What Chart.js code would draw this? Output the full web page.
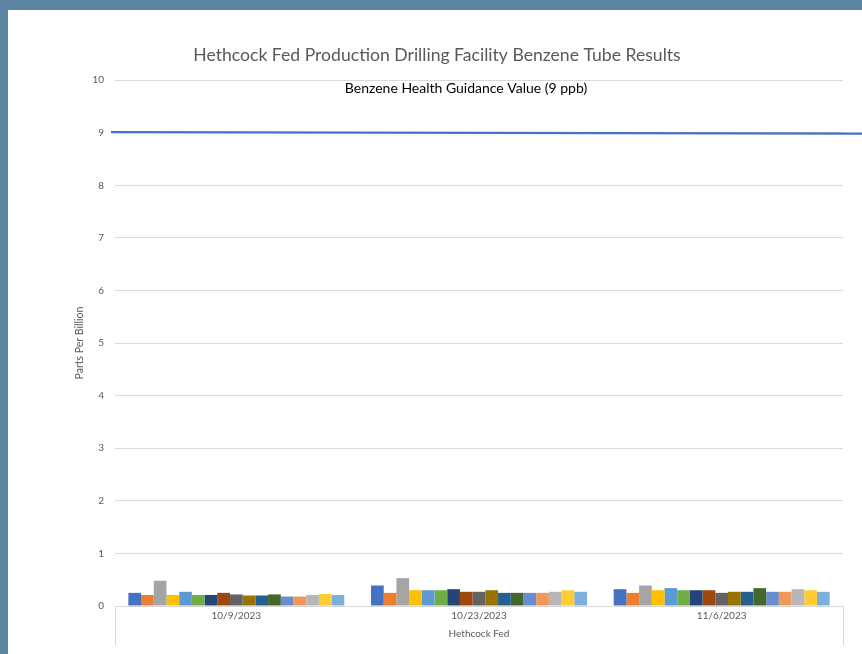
<!DOCTYPE html>
<html>
<head>
<meta charset="utf-8">
<script src="https://cdn.jsdelivr.net/npm/chart.js@4/dist/chart.umd.min.js"></script>
<style>
  html, body { margin: 0; padding: 0; background: #5b85a1; width: 862px; height: 654px; overflow: hidden; }
  #card { position: absolute; left: 8px; top: 10px; width: 854px; height: 644px; background: #fff; }
</style>
</head>
<body>
<div id="card"><canvas id="benzeneChart" width="854" height="644"></canvas></div>
<script>
const dates = ["10/9/2023", "10/23/2023", "11/6/2023"];
const groupLabel = "Hethcock Fed";

// one value per tube, in tube order, for each sampling date (ppb)
const oct9 = [0.25, 0.21, 0.48, 0.21, 0.27, 0.21, 0.21, 0.25, 0.22, 0.20, 0.20, 0.22, 0.18, 0.18, 0.21, 0.23, 0.21];
const oct23 = [0.39, 0.25, 0.53, 0.30, 0.30, 0.30, 0.32, 0.27, 0.27, 0.30, 0.25, 0.25, 0.25, 0.25, 0.27, 0.30, 0.27];
const nov6 = [0.32, 0.25, 0.39, 0.30, 0.34, 0.30, 0.30, 0.30, 0.25, 0.27, 0.27, 0.34, 0.27, 0.27, 0.32, 0.30, 0.27];

const yTicks = [0, 1, 2, 3, 4, 5, 6, 7, 8, 9, 10];
const guidanceValue = 9;
const guidanceLabel = "Benzene Health Guidance Value (9 ppb)";

const tubeColors = [
  "#4472c4", "#ed7d31", "#a5a5a5", "#ffc000", "#5b9bd5", "#70ad47",
  "#264478", "#9e480e", "#636363", "#997300", "#255e91", "#43682b",
  "#698ed0", "#f1975a", "#b7b7b7", "#ffcd33", "#7cafdd"
];

const byDate = [oct9, oct23, nov6];
const datasets = tubeColors.map((color, i) => ({
  label: `Tube ${i + 1}`,
  data: byDate.map(values => values[i]),
  backgroundColor: color,
  borderWidth: 0,
  categoryPercentage: 0.89,
  barPercentage: 1.0
}));

// guidance line + its label, and the group box under the category axis
const guidancePlugin = {
  id: "guidance",
  afterDatasetsDraw(chart) {
    const { ctx, scales: { x, y } } = chart;
    const py = y.getPixelForValue(guidanceValue);
    ctx.save();

    // box sides of the "Hethcock Fed" group
    ctx.strokeStyle = "#d9d9d9";
    ctx.lineWidth = 1;
    [-0.5, dates.length - 0.5].forEach(v => {
      const px = Math.round(x.getPixelForValue(v)) + 0.5;
      ctx.beginPath();
      ctx.moveTo(px, x.top);
      ctx.lineTo(px, x.top + 39);
      ctx.stroke();
    });

    ctx.strokeStyle = "#4472c4";
    ctx.lineWidth = 2.25;
    ctx.beginPath();
    ctx.moveTo(x.left - 4, py - 0.5);
    ctx.lineTo(chart.width, py + 1);
    ctx.stroke();

    ctx.fillStyle = "#000";
    ctx.font = "14px Lato";
    ctx.textAlign = "center";
    ctx.textBaseline = "middle";
    ctx.fillText(guidanceLabel, x.getPixelForValue(1) - 13, py - 44);
    ctx.restore();
  }
};

new Chart(document.getElementById("benzeneChart"), {
  type: "bar",
  data: { labels: dates, datasets: datasets },
  plugins: [guidancePlugin],
  options: {
    responsive: false,
    animation: false,
    layout: { padding: { left: 23, right: 19, top: 0, bottom: 0 } },
    plugins: {
      legend: { display: false },
      tooltip: { enabled: false },
      title: {
        display: true,
        text: "Hethcock Fed Production Drilling Facility Benzene Tube Results",
        color: "#595959",
        font: { family: "Lato", size: 17.6, weight: "normal" },
        padding: { top: 35, bottom: 14 }
      }
    },
    scales: {
      x: {
        offset: true,
        grid: { display: false },
        border: { color: "#d9d9d9" },
        ticks: { color: "#595959", font: { family: "Lato", size: 10 }, padding: -4, maxRotation: 0 },
        title: {
          display: true,
          text: groupLabel,
          color: "#595959",
          font: { family: "Lato", size: 10 },
          padding: { top: 0, bottom: 14 }
        },
        afterFit: scale => { scale.height = 48; }
      },
      y: {
        min: 0,
        max: 10,
        afterBuildTicks: scale => { scale.ticks = yTicks.map(v => ({ value: v })); },
        grid: { color: "#d9d9d9", drawTicks: false },
        border: { display: false },
        ticks: { color: "#595959", font: { family: "Lato", size: 10 }, padding: 11 },
        title: {
          display: true,
          text: "Parts Per Billion",
          color: "#595959",
          font: { family: "Lato", size: 10.5 },
          padding: { top: 42, bottom: 0 }
        },
        afterFit: scale => { scale.width = 84; }
      }
    }
  }
});
</script>
</body>
</html>
